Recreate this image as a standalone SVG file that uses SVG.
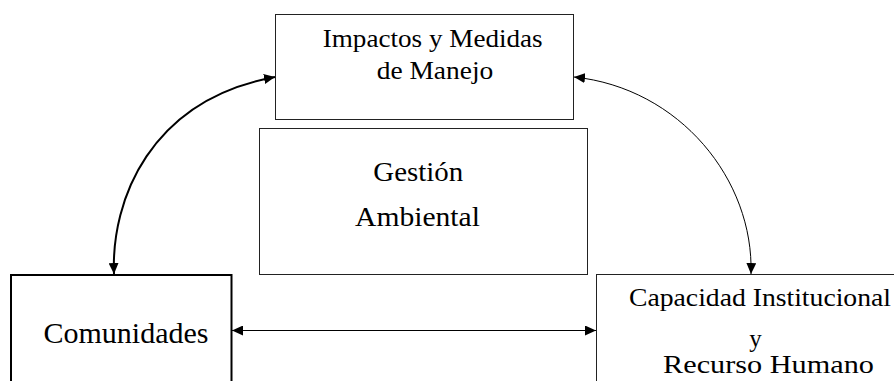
<svg xmlns="http://www.w3.org/2000/svg" width="894" height="381" viewBox="0 0 894 381">
<style>
.box{fill:#fff;stroke:#222;stroke-width:1}
.thick{fill:#fff;stroke:#000;stroke-width:2}
.t{font-family:Liberation Serif, serif;fill:#000;text-anchor:middle}
.c{fill:none;stroke:#000}
</style>
<defs>
<marker id="ah" markerUnits="userSpaceOnUse" markerWidth="12" markerHeight="10" refX="11" refY="5" orient="auto-start-reverse">
<path d="M0,0 L11,5 L0,10 Z" fill="#000"/>
</marker>
</defs>
<g id="impactos">
<rect class="box" x="275.5" y="14.5" width="298" height="105"/>
<text class="t" font-size="25" transform="translate(432.7,46.7) scale(1.085,1)">Impactos y Medidas</text>
<text class="t" font-size="25" transform="translate(435,78.5) scale(1.098,1)">de Manejo</text>
</g>
<g id="gestion">
<rect class="box" x="259.5" y="128.5" width="328" height="146"/>
<text class="t" font-size="28" transform="translate(418.3,180.7) scale(1.033,1)">Gestión</text>
<text class="t" font-size="28" transform="translate(417.5,226) scale(1.057,1)">Ambiental</text>
</g>
<g id="comunidades">
<rect class="thick" x="11" y="275" width="220.5" height="120"/>
<text class="t" font-size="30" x="126" y="343">Comunidades</text>
</g>
<g id="capacidad">
<rect class="box" x="596.5" y="274.5" width="320" height="120"/>
<text class="t" font-size="25" transform="translate(760,306) scale(1.107,1)">Capacidad Institucional</text>
<text class="t" font-size="25" x="755.5" y="346.5">y</text>
<text class="t" font-size="25" transform="translate(768.5,373) scale(1.21,1)">Recurso Humano</text>
</g>
<g id="connectors">
<path class="c" stroke-width="2" d="M114,274 C111,200 150,100 275,77" marker-start="url(#ah)" marker-end="url(#ah)"/>
<path class="c" stroke-width="1" d="M574,77 C680,88 754,180 751,274" marker-start="url(#ah)" marker-end="url(#ah)"/>
<path class="c" stroke-width="1" d="M232,330.5 L596,330.5" marker-start="url(#ah)" marker-end="url(#ah)"/>
</g>
</svg>
